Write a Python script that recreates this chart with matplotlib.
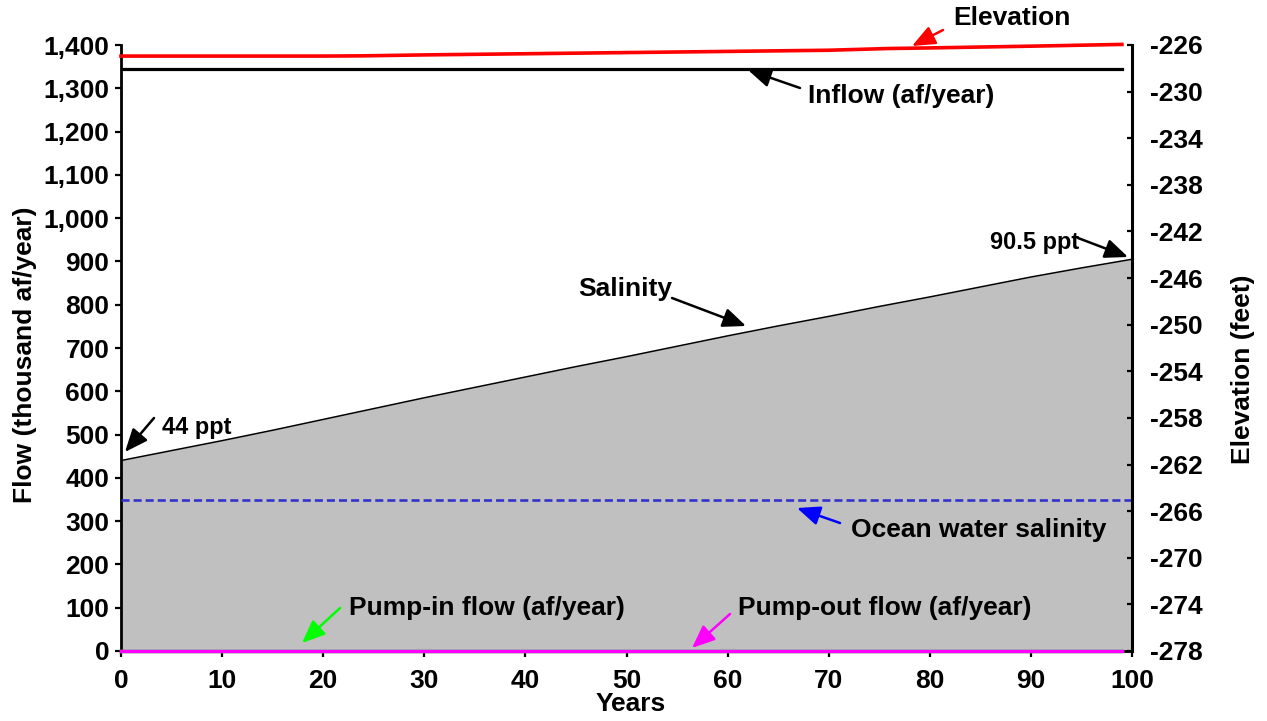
import matplotlib
matplotlib.use("Agg")
import matplotlib.pyplot as plt
import numpy as np

# ---- data -------------------------------------------------------------
salinity_years = [0, 5, 10, 15, 20, 25, 30, 35, 40, 45, 50,
                  55, 60, 65, 70, 75, 80, 85, 90, 95, 100]
salinity_ppt = [44.0, 46.3, 48.6, 51.0, 53.5, 56.0, 58.5, 60.9, 63.3, 65.7, 68.0,
                70.4, 72.8, 75.1, 77.3, 79.6, 81.8, 84.1, 86.4, 88.5, 90.5]

elevation_years = [0, 10, 20, 24, 30, 40, 50, 60, 70, 76, 80, 90, 99]
elevation_ft = [-226.95, -226.95, -226.95, -226.93, -226.85, -226.75, -226.65,
                -226.55, -226.45, -226.3, -226.25, -226.1, -225.95]

flow_years = [0, 99]
inflow_kaf = [1345, 1345]
pump_in_kaf = [0, 0]
pump_out_kaf = [0, 0]

ocean_years = [0, 100]
ocean_salinity_ppt = [35, 35]

# salinity (ppt) is drawn against the flow axis at ten times its value
PPT_TO_FLOW = 10

flow_ticks = list(range(0, 1401, 100))
elev_ticks = list(range(-278, -225, 4))
year_ticks = list(range(0, 101, 10))

# ---- style ------------------------------------------------------------
plt.rcParams["font.family"] = ["Liberation Sans", "DejaVu Sans"]
plt.rcParams["font.weight"] = "bold"
plt.rcParams["lines.scale_dashes"] = False
plt.rcParams["axes.unicode_minus"] = False
FS = 19

W, H = 1267, 721
fig = plt.figure(figsize=(W / 100, H / 100), dpi=100)
L, R, B, T = 121, 1132, 651, 45
ax = fig.add_axes([L / W, 1 - B / H, (R - L) / W, (B - T) / H])

sal_flow = np.array(salinity_ppt) * PPT_TO_FLOW
ocean_flow = np.array(ocean_salinity_ppt) * PPT_TO_FLOW

ax.fill_between(salinity_years, sal_flow, 0, color="#C0C0C0", lw=0, zorder=1)
ax.plot(salinity_years, sal_flow, color="black", lw=1.1, zorder=3)
ax.plot(ocean_years, ocean_flow, color="#3333CC", lw=1.9,
        dashes=(5.8, 2.9), zorder=3)
ax.plot(flow_years, inflow_kaf, color="black", lw=2.3, zorder=3)
ax.plot(flow_years, pump_in_kaf, color="#00FF00", lw=2.5, zorder=3, clip_on=False)
ax.plot(flow_years, pump_out_kaf, color="#FF00FF", lw=2.5, zorder=4, clip_on=False)

ax.set_xlim(0, 100)
ax.set_ylim(0, 1400)
ax.set_xticks(year_ticks)
ax.set_yticks(flow_ticks)
ax.set_yticklabels([f"{v:,}" for v in flow_ticks])
ax.tick_params(axis="both", labelsize=FS, width=1.6, length=4.3, direction="out")
ax.tick_params(axis="x", pad=9)
ax.tick_params(axis="y", pad=4)
for lab in ax.get_xticklabels() + ax.get_yticklabels():
    lab.set_fontweight("bold")
ax.spines["top"].set_visible(False)
ax.spines["right"].set_visible(False)
for s in ("left", "bottom"):
    ax.spines[s].set_linewidth(2.0)

ax2 = ax.twinx()
ax2.plot(elevation_years, elevation_ft, color="#FF0000", lw=2.6, clip_on=False, zorder=5)
ax2.set_ylim(-278, -226)
ax2.set_yticks(elev_ticks)
ax2.set_yticklabels([str(v) for v in elev_ticks])
ax2.tick_params(axis="y", labelsize=FS, width=1.6, length=3.8, direction="in", pad=13)
for lab in ax2.get_yticklabels():
    lab.set_fontweight("bold")
for s in ("top", "left", "bottom"):
    ax2.spines[s].set_visible(False)
ax2.spines["right"].set_linewidth(2.2)

# ---- axis titles ------------------------------------------------------
fig.text(25 / W, 1 - 355 / H, "Flow (thousand af/year)", rotation=90,
         ha="center", va="center", fontsize=FS, fontweight="bold")
fig.text(1243 / W, 1 - 369 / H, "Elevation (feet)", rotation=90,
         ha="center", va="center", fontsize=FS, fontweight="bold")
fig.text(631 / W, 1 - 704 / H, "Years", ha="center", va="center",
         fontsize=FS, fontweight="bold")


# ---- callouts (positions given in pixels of the figure) ---------------
def px(x, y):
    return x / W, 1 - y / H


def callout(text, text_xy, ha, tail, tip, color, fs=FS):
    fig.text(*px(*text_xy), text, ha=ha, va="center", fontsize=fs, fontweight="bold")
    fig.add_artist(matplotlib.patches.FancyArrowPatch(
        px(*tail), px(*tip), transform=fig.transFigure,
        arrowstyle="-|>,head_length=1.0,head_width=0.42", mutation_scale=14,
        color=color, lw=1.8, shrinkA=0, shrinkB=0, zorder=10))


callout("Elevation", (1012, 18), "center", (943, 30), (912, 46), "#FF0000")
callout("Inflow (af/year)", (808, 96), "left", (800, 88), (748, 70), "black")
callout("Salinity", (625, 289), "center", (672, 298), (746, 326), "black")
callout(f"{salinity_ppt[0]:g} ppt", (162, 428), "left", (154, 418), (125, 452),
        "black", fs=17)
callout(f"{salinity_ppt[-1]:g} ppt", (990, 242), "left", (1078, 238), (1128, 257),
        "black", fs=17)
callout("Ocean water salinity", (851, 530), "left", (840, 523), (797, 508), "#0000FF")
callout("Pump-in flow (af/year)", (349, 608), "left", (340, 608), (302, 643), "#00FF00")
callout("Pump-out flow (af/year)", (738, 608), "left", (730, 614), (692, 648), "#FF00FF")

fig.savefig("out.png", dpi=100)
